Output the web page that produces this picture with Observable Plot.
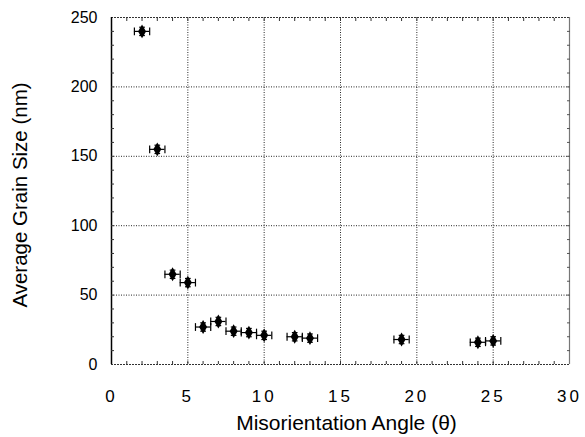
<!DOCTYPE html>
<html>
<head>
<meta charset="utf-8">
<script src="https://cdn.jsdelivr.net/npm/d3@7"></script>
<script src="https://cdn.jsdelivr.net/npm/@observablehq/plot@0.6"></script>
<style>
  html, body { margin: 0; padding: 0; background: #fff; }
  #chart svg g[aria-label="x-axis tick label"] text { letter-spacing: 3px; }
</style>
</head>
<body>
<div id="chart"></div>
<script>
// Data
const angles    = [2, 3, 4, 5, 6, 7, 8, 9, 10, 12, 13, 19, 24, 25];
const grainSize = [240, 155, 65, 59, 27, 31, 24, 23, 21, 20, 19, 18, 16, 17];
const angleErr  = [0.5, 0.5, 0.5, 0.5, 0.5, 0.5, 0.5, 0.5, 0.5, 0.5, 0.5, 0.5, 0.5, 0.5];
const sizeErr   = [3, 3, 3, 3, 3, 3, 3, 3, 3, 3, 3, 3, 3, 3];

const xTicks = [0, 5, 10, 15, 20, 25, 30];
const yTicks = [0, 50, 100, 150, 200, 250];
const xGrid = [5, 10, 15, 20, 25];
const yGrid = [50, 100, 150, 200];
const xMinor = d3.range(1, 30);
const yMinor = d3.range(10, 250, 10);

const xTitle = "Misorientation Angle (θ)";
const yTitle = "Average Grain Size (nm)";

const data = angles.map((a, i) => ({
  a, s: grainSize[i],
  a1: a - angleErr[i], a2: a + angleErr[i],
  s1: grainSize[i] - sizeErr[i], s2: grainSize[i] + sizeErr[i]
}));

const vbar = { draw(ctx, size) { const h = Math.sqrt(size); ctx.moveTo(0, -h); ctx.lineTo(0, h); } };
const hbar = { draw(ctx, size) { const h = Math.sqrt(size); ctx.moveTo(-h, 0); ctx.lineTo(h, 0); } };

const chart = Plot.plot({
  width: 585,
  height: 437,
  marginLeft: 111,
  marginRight: 16,
  marginTop: 17,
  marginBottom: 73,
  x: { domain: [0, 30] },
  y: { domain: [0, 250] },
  style: { fontFamily: "'Liberation Sans', Arial, Helvetica, sans-serif", background: "#fff", color: "#000" },
  marks: [
    Plot.gridX(xGrid, { stroke: "#000", strokeOpacity: 0.85, strokeDasharray: "1,1.5" }),
    Plot.gridY(yGrid, { stroke: "#000", strokeOpacity: 0.85, strokeDasharray: "1,1.5" }),
    // frame
    Plot.ruleY([250], { stroke: "#333", strokeDasharray: "2,1" }),
    Plot.ruleY([0], { stroke: "#333", strokeDasharray: "2,1" }),
    Plot.ruleX([0], { stroke: "#000", strokeWidth: 1.5 }),
    Plot.ruleX([30], { stroke: "#777", strokeWidth: 1.2 }),
    // inward minor ticks
    Plot.axisX(xMinor, { anchor: "bottom", tickSize: -3, text: null, label: null, stroke: "#333" }),
    Plot.axisX(xMinor, { anchor: "top", tickSize: -3, text: null, label: null, stroke: "#333" }),
    Plot.axisY(yMinor, { anchor: "left", tickSize: -3, text: null, label: null, stroke: "#333" }),
    Plot.axisY(yMinor, { anchor: "right", tickSize: -3, text: null, label: null, stroke: "#555" }),
    // tick labels
    Plot.axisX(xTicks, { anchor: "bottom", tickSize: 0, tickPadding: 25, fontSize: 17, label: null }),
    Plot.axisY(yTicks, { anchor: "left", tickSize: 0, tickPadding: 14, fontSize: 16, label: null }),
    // error bars
    Plot.ruleY(data, { y: "s", x1: "a1", x2: "a2", stroke: "#000", strokeWidth: 1.2 }),
    Plot.ruleX(data, { x: "a", y1: "s1", y2: "s2", stroke: "#000", strokeWidth: 1.2 }),
    Plot.dot(data, { x: "a1", y: "s", symbol: vbar, r: 2.2, stroke: "#000", strokeWidth: 1.2 }),
    Plot.dot(data, { x: "a2", y: "s", symbol: vbar, r: 2.2, stroke: "#000", strokeWidth: 1.2 }),
    Plot.dot(data, { x: "a", y: "s1", symbol: hbar, r: 1.6, stroke: "#000", strokeWidth: 1.2 }),
    Plot.dot(data, { x: "a", y: "s2", symbol: hbar, r: 1.6, stroke: "#000", strokeWidth: 1.2 }),
    // markers
    Plot.dot(data, { x: "a", y: "s", symbol: "diamond", r: 4.2, fill: "#000", stroke: "none" }),
    // axis titles
    Plot.text([xTitle], { frameAnchor: "bottom", lineAnchor: "middle", dy: 59, dx: 6, fontSize: 21 }),
    Plot.text([yTitle], { frameAnchor: "left", textAnchor: "middle", lineAnchor: "middle", rotate: -90, dx: -91, dy: 4, fontSize: 20.5 })
  ]
});
document.getElementById("chart").appendChild(chart);
</script>
</body>
</html>
